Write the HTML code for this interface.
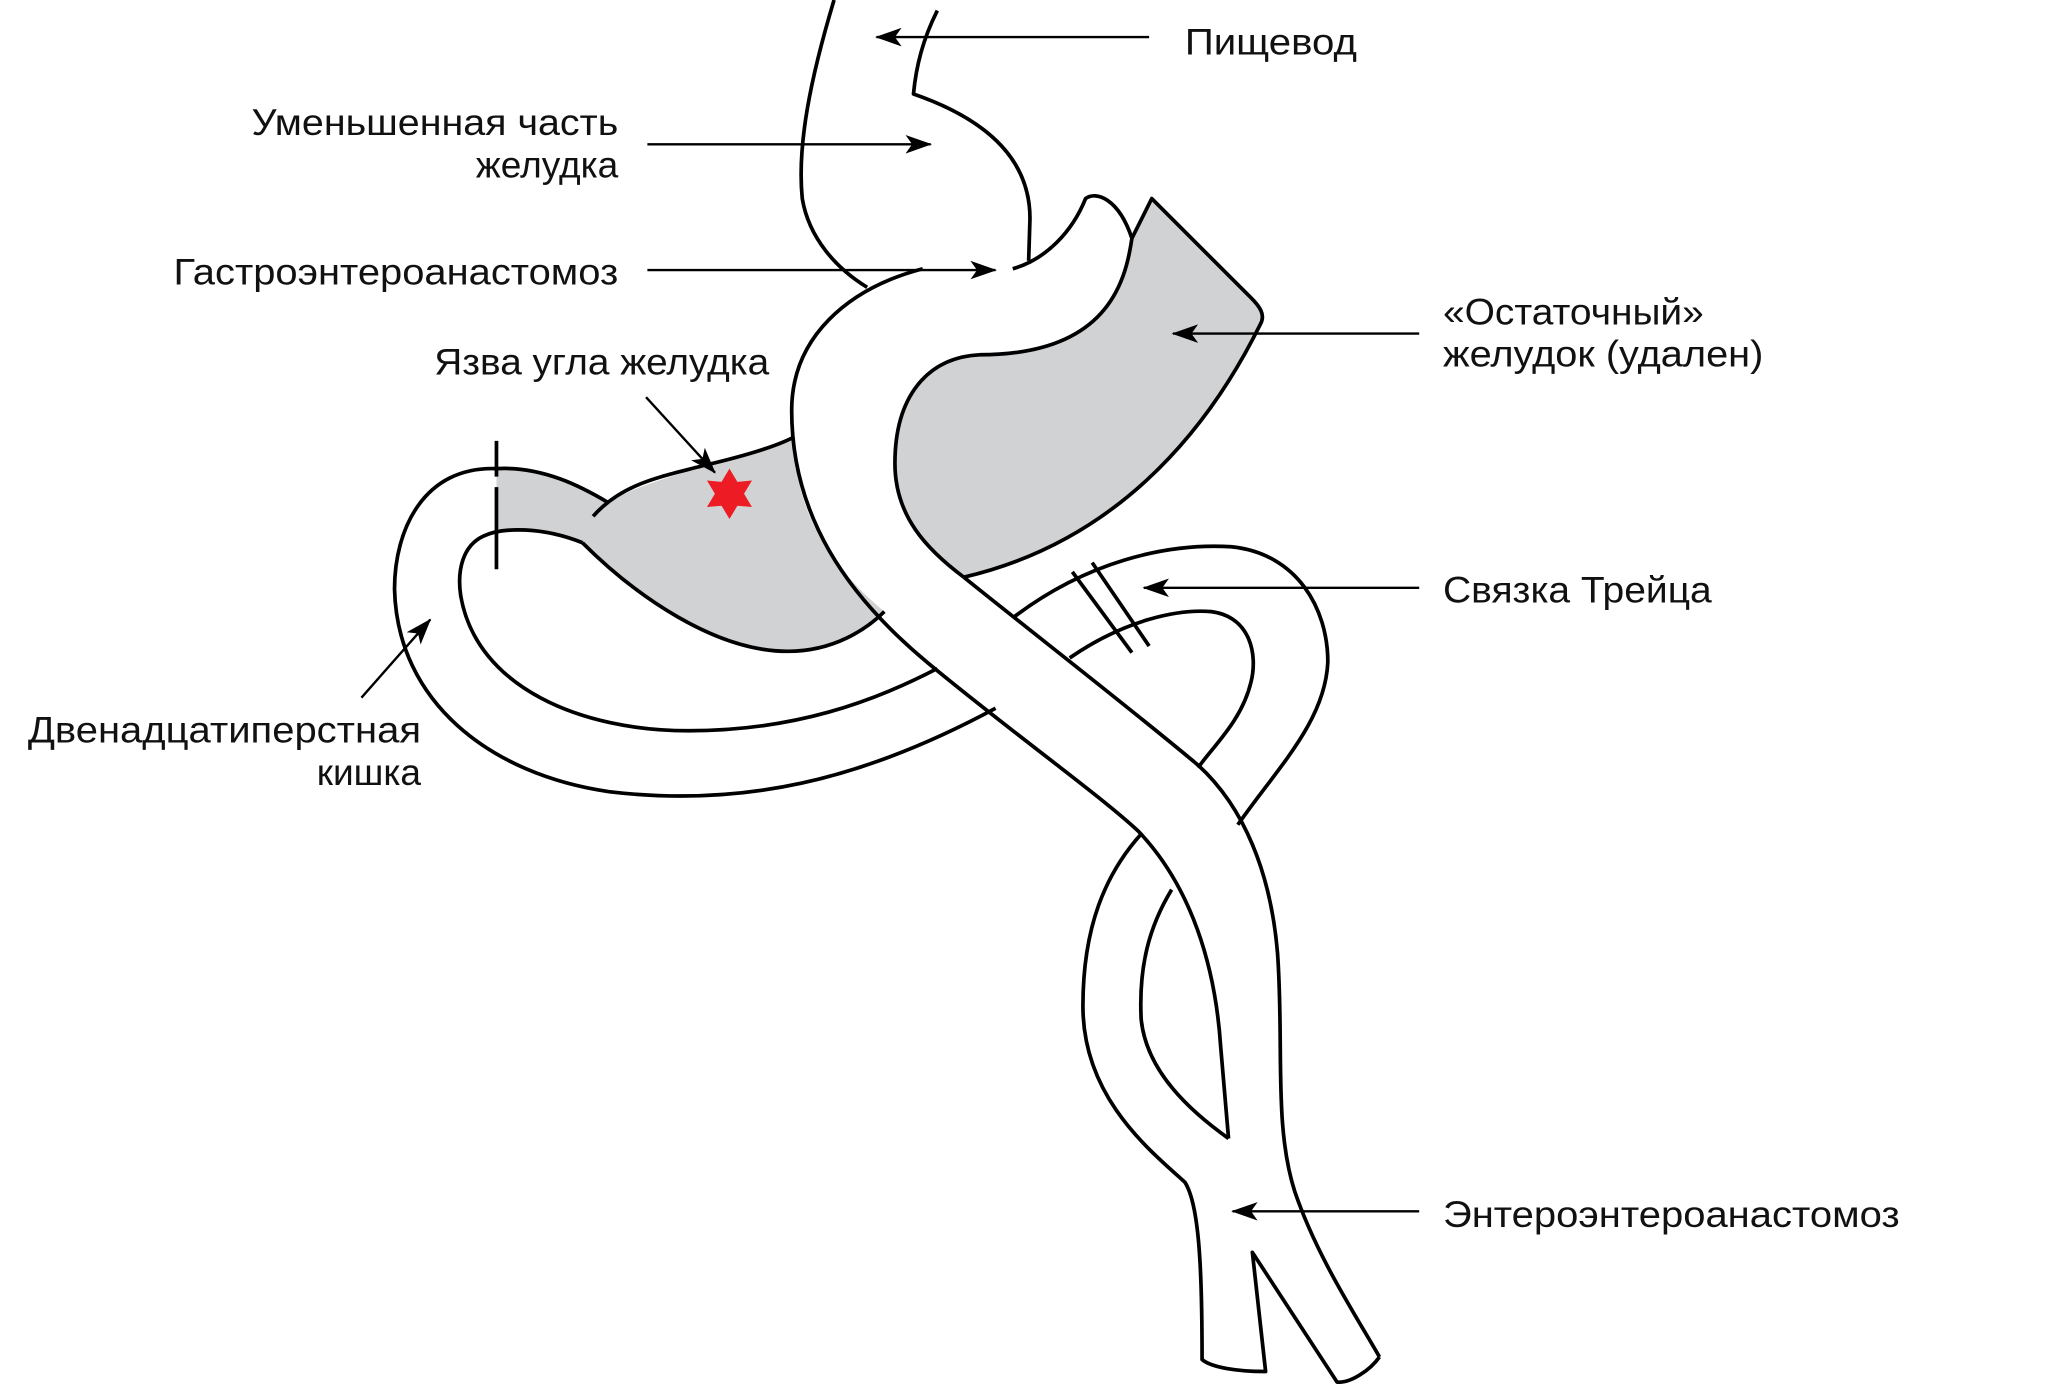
<!DOCTYPE html>
<html><head><meta charset="utf-8"><style>
html,body{margin:0;padding:0;background:#fff}
svg{display:block}
text{font-family:"Liberation Sans",sans-serif;fill:#111}
</style></head><body>
<svg width="2052" height="1385" viewBox="0 0 1550 1046.2" xmlns="http://www.w3.org/2000/svg">
<defs>
<marker id="ah" viewBox="0 0 20 14" refX="19" refY="7" markerWidth="20" markerHeight="14" markerUnits="userSpaceOnUse" orient="auto">
<path d="M0,0 L20,7 L0,14 L5,7 Z" fill="#000"/>
</marker>
</defs>
<g fill="#d1d2d4" stroke="none">
<path d="M375,354 C415,352 445,370 458,380 C480,365 560,345 600,330 C600,390 630,430 668,462 C650,480 625,492 595,492 C540,490 480,450 440,410 C420,402 395,400 375,403 Z"/>
<path d="M855,180 L870,150 L945,225 C952,232 956,238 952,245 C910,330 840,410 728,436 C700,415 676,390 676,350 C676,300 700,270 740,268 C835,268 850,215 855,180 Z"/>
</g>
<g fill="none" stroke="#000" stroke-width="2.8" stroke-linejoin="round" stroke-linecap="butt">
<path d="M630,0 C612,60 602,110 606,150 C611,180 632,203 655,217"/>
<path d="M708,8 C697,30 692,50 690,71 C745,90 778,120 778,165 L777,197"/>
<path d="M765,203 C790,196 810,175 820,150 C828,144 845,150 855,180 C850,215 835,268 740,268 C700,270 676,300 676,350 C676,390 700,415 728,436"/>
<path d="M855,180 L870,150 L945,225 C952,232 956,238 952,245 C910,330 840,410 728,436"/>
<path d="M697,203 C640,218 598,255 598,310 C598,390 640,450 700,500 C760,550 830,600 860,628 C900,670 918,730 922,790 L928,860"/>
<path d="M728,436 C770,470 860,540 905,578 C940,610 960,660 965,720 C970,790 962,850 978,900 C995,950 1025,995 1042,1025"/>
<path d="M460,380 C440,368 410,352 375,354 C320,352 298,400 298,445 C300,530 370,585 460,598 C560,610 650,590 752,535"/>
<path d="M440,410 C410,398 380,398 365,405 C350,412 345,430 348,450 C360,520 440,552 520,552 C600,552 660,530 708,505"/>
<path d="M448,390 C470,365 500,360 530,352 C560,345 585,338 600,330"/>
<path d="M440,410 C480,450 540,492 595,492 C630,492 655,475 668,462"/>
<path d="M766,466 C820,425 880,410 930,413 C980,418 1003,460 1003,500 C1001,545 965,580 935,623"/>
<path d="M808,497 C850,468 890,460 915,462 C945,466 950,495 945,515 C938,545 915,565 905,580"/>
<path d="M862,630 C835,660 818,700 818,760 C818,830 870,870 895,893 C906,910 908,960 908,1027 C915,1033 935,1036 956,1036 L946,946 L1010,1044 C1020,1045 1035,1035 1042,1025"/>
<path d="M885,672 C868,700 860,730 862,770 C866,810 900,840 928,860"/>
<path d="M375,333 L375,360 M375,368 L375,430"/>
<path d="M810,432 L855,493 M825,425 L868,488"/>
</g>
<g stroke="#000" stroke-width="1.8" fill="none" marker-end="url(#ah)">
<line x1="868" y1="28" x2="662" y2="28"/>
<line x1="489" y1="109" x2="703" y2="109"/>
<line x1="489" y1="204" x2="752" y2="204"/>
<line x1="1072" y1="252" x2="886" y2="252"/>
<line x1="1072" y1="444" x2="864" y2="444"/>
<line x1="1072" y1="915" x2="931" y2="915"/>
<line x1="488" y1="300" x2="540" y2="357"/>
<line x1="273" y1="527" x2="325" y2="468"/>
</g>
<polygon fill="#ed1c24" points="551,354 557,364 568,363 562,373 568,383 557,382 551,392 545,382 534,383 540,373 534,363 545,364"/>
<g font-size="28">
<text x="895" y="41" textLength="130" lengthAdjust="spacingAndGlyphs">Пищевод</text>
<text x="190" y="102" textLength="277" lengthAdjust="spacingAndGlyphs">Уменьшенная часть</text>
<text x="467" y="134" text-anchor="end">желудка</text>
<text x="131" y="215" textLength="336" lengthAdjust="spacingAndGlyphs">Гастроэнтероанастомоз</text>
<text x="328" y="283" textLength="253" lengthAdjust="spacingAndGlyphs">Язва угла желудка</text>
<text x="21" y="561" textLength="297" lengthAdjust="spacingAndGlyphs">Двенадцатиперстная</text>
<text x="318" y="593" text-anchor="end">кишка</text>
<text x="1090" y="245" textLength="197" lengthAdjust="spacingAndGlyphs">«Остаточный»</text>
<text x="1090" y="277" textLength="242" lengthAdjust="spacingAndGlyphs">желудок (удален)</text>
<text x="1090" y="455" textLength="203" lengthAdjust="spacingAndGlyphs">Связка Трейца</text>
<text x="1090" y="927" textLength="345" lengthAdjust="spacingAndGlyphs">Энтероэнтероанастомоз</text>
</g>
</svg>
</body></html>
